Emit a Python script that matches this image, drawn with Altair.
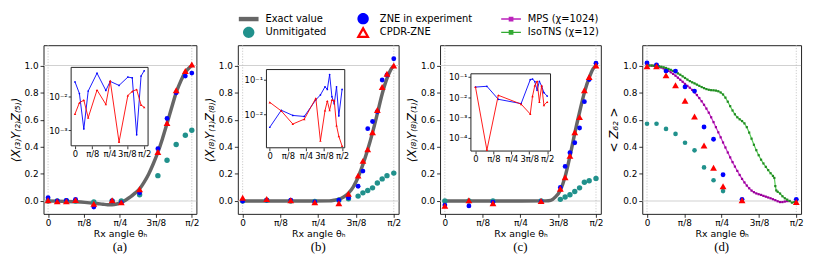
import math
import altair as alt
import pandas as pd

HALF = math.pi / 2

# ---------------- shared axis ticks ----------------
X_TICKS = [0, math.pi / 8, math.pi / 4, 3 * math.pi / 8, HALF]
X_TICK_LABELS = ["0", "π/8", "π/4", "3π/8", "π/2"]
Y_TICKS = [0, 0.2, 0.4, 0.6, 0.8, 1.0]
REF_Y = [0.0, 1.0]
REF_X = [0.0, HALF]

# ---------------- panel (a) ----------------
A_THETA = [0, 0.1, 0.2, 0.3, 0.5, 0.7, 0.8, 1.0, 1.2, 1.3, 1.4, 1.5, HALF]
A_ZNE = [0.024, 0.0, 0.005, 0.012, -0.044, 0.0, -0.012, 0.061, 0.386, 0.609, 0.799, 0.922, 0.944]
A_CPDR = [0.005, -0.003, -0.003, 0.007, -0.02, 0.005, -0.01, 0.087, 0.362, 0.575, 0.818, 0.959, 1.007]
A_UNMIT = [0.0, 0.0, 0.002, 0.0, -0.007, 0.0, 0.0, 0.046, 0.187, 0.301, 0.417, 0.485, 0.522]
A_EXACT_T = [0, 0.1, 0.2, 0.3, 0.4, 0.5, 0.55, 0.6, 0.65, 0.7, 0.75, 0.8, 0.85, 0.9, 0.95,
             1.0, 1.05, 1.1, 1.15, 1.2, 1.25, 1.3, 1.35, 1.4, 1.45, 1.5, 1.54, HALF]
A_EXACT = [0, -0.001, -0.003, -0.006, -0.01, -0.016, -0.02, -0.024, -0.027, -0.027, -0.022,
           -0.01, 0.008, 0.03, 0.058, 0.09, 0.14, 0.2, 0.275, 0.36, 0.46, 0.572, 0.688, 0.8,
           0.885, 0.95, 0.982, 1.0]
A_INSET_ZNE = [0.028, 0.0126, 0.0011, 0.015, 0.051, 0.0156, 0.029, 0.022, 0.039, 0.037, 0.00074, 0.042, 0.06]
A_INSET_CPDR = [0.0031, 0.0067, 0.008, 0.0024, 0.016, 0.006, 0.03, 0.00045, 0.011, 0.0146, 0.0166, 0.0057, 0.0049]

# ---------------- panel (b) ----------------
B_THETA = [0, 0.25, 0.5, 0.75, 1.0, 1.1, 1.2, 1.25, 1.3, 1.35, 1.4, 1.45, 1.5, HALF]
B_ZNE = [0.0, 0.007, 0.007, -0.007, 0.007, 0.024, 0.109, 0.221, 0.534, 0.587, 0.66, 0.893, 0.93, 1.05]
B_CPDR = [0.024, 0.015, 0.005, -0.01, -0.017, 0.053, 0.187, 0.296, 0.381, 0.507, 0.672, 0.842, 0.939, 1.0]
B_UNMIT = [0.0, 0.005, 0.0, -0.003, 0.005, 0.017, 0.036, 0.06, 0.078, 0.097, 0.133, 0.163, 0.187, 0.206]
B_EXACT_T = [0, 0.3, 0.6, 0.9, 0.95, 1.0, 1.05, 1.1, 1.15, 1.2, 1.25, 1.3, 1.35, 1.4, 1.45, 1.5, 1.54, HALF]
B_EXACT = [0, 0, 0, 0.001, 0.005, 0.013, 0.03, 0.058, 0.105, 0.175, 0.27, 0.38, 0.505, 0.645,
           0.79, 0.905, 0.97, 1.0]
B_INSET_ZNE = [0.0042, 0.013, 0.0092, 0.0086, 0.026, 0.036, 0.062, 0.052, 0.14, 0.032, 0.02, 0.062, 0.0089, 0.052]
B_INSET_CPDR = [0.022, 0.0124, 0.0052, 0.0072, 0.029, 0.0017, 0.0128, 0.024, 0.013, 0.026, 0.025, 0.0047, 0.0023, 0.0012]

# ---------------- panel (c) ----------------
C_THETA = [0, 0.25, 0.5, 1.0, 1.2, 1.25, 1.3, 1.35, 1.4, 1.45, 1.5, HALF]
C_ZNE = [-0.03, -0.036, -0.008, -0.005, 0.1, 0.255, 0.357, 0.43, 0.539, 0.733, 0.896, 1.017]
C_CPDR = [-0.036, 0.005, -0.017, 0.0, 0.09, 0.175, 0.333, 0.507, 0.619, 0.818, 0.915, 1.0]
C_UNMIT = [0.0, 0.0, 0.0, 0.0, 0.012, 0.029, 0.046, 0.07, 0.097, 0.138, 0.15, 0.167]
C_EXACT_T = [0, 0.4, 0.8, 1.05, 1.1, 1.15, 1.2, 1.25, 1.3, 1.35, 1.4, 1.45, 1.5, 1.54, HALF]
C_EXACT = [0, 0, 0, 0.001, 0.005, 0.03, 0.08, 0.18, 0.33, 0.5, 0.655, 0.8, 0.91, 0.975, 1.0]
C_INSET_ZNE = [0.032, 0.035, 0.008, 0.0049, 0.074, 0.08, 0.06, 0.022, 0.062, 0.035, 0.017, 0.0115]
C_INSET_CPDR = [0.032, 0.000025, 0.0126, 0.0046, 0.0015, 0.0115, 0.038, 0.062, 0.0059, 0.038, 0.0041, 0.0059]

# ---------------- panel (d) ----------------
D_THETA = [0, 0.1, 0.2, 0.3, 0.4, 0.5, 0.6, 0.7, 0.8, 1.0, HALF]
D_ZNE = [1.019, 1.005, 0.959, 0.959, 0.842, 0.811, 0.546, 0.456, 0.194, 0.012, 0.012]
D_CPDR = [0.995, 0.995, 0.927, 0.854, 0.74, 0.624, 0.41, 0.245, 0.109, 0.005, -0.007]
D_UNMIT_T = [0, 0.1, 0.2, 0.3, 0.4, 0.5, 0.6, 0.7, 0.8]
D_UNMIT = [0.570, 0.570, 0.532, 0.495, 0.430, 0.374, 0.248, 0.153, 0.073]
MPS_T = [0.0, 0.025, 0.05, 0.075, 0.1, 0.125, 0.15, 0.175, 0.2, 0.225, 0.25, 0.275, 0.3, 0.325,
         0.35, 0.375, 0.4, 0.425, 0.45, 0.475, 0.5, 0.525, 0.55, 0.575, 0.6, 0.625, 0.65, 0.675,
         0.7, 0.725, 0.75, 0.775, 0.8, 0.825, 0.85, 0.875, 0.9, 0.925, 0.95, 0.975, 1.0, 1.025,
         1.05, 1.075, 1.1, 1.125, 1.15, 1.175, 1.2, 1.225, 1.25, 1.275, 1.3, 1.325, 1.35, 1.375,
         1.4, 1.425, 1.45, 1.475, 1.5]
MPS_V = [1.0, 1.0, 0.999, 0.997, 0.994, 0.99, 0.985, 0.978, 0.97, 0.96, 0.95, 0.938, 0.925, 0.91,
         0.895, 0.88, 0.864, 0.85, 0.836, 0.82, 0.802, 0.782, 0.76, 0.736, 0.71, 0.682, 0.652,
         0.618, 0.582, 0.545, 0.507, 0.47, 0.432, 0.395, 0.358, 0.322, 0.287, 0.254, 0.222,
         0.192, 0.163, 0.137, 0.114, 0.094, 0.077, 0.065, 0.056, 0.05, 0.045, 0.038, 0.032,
         0.026, 0.02, 0.013, 0.006, -0.002, -0.008, -0.008, -0.004, -0.001, 0.0]
ISO_T = [0.0, 0.025, 0.05, 0.075, 0.1, 0.125, 0.15, 0.175, 0.2, 0.225, 0.25, 0.275, 0.3, 0.325,
         0.35, 0.375, 0.4, 0.425, 0.45, 0.475, 0.5, 0.525, 0.55, 0.575, 0.6, 0.625, 0.65, 0.675,
         0.7, 0.725, 0.75, 0.775, 0.8, 0.825, 0.85, 0.875, 0.9, 0.925, 0.95, 0.975, 1.0, 1.025,
         1.05, 1.075, 1.1, 1.125, 1.15, 1.175, 1.2, 1.225, 1.25, 1.275, 1.3, 1.325, 1.34, 1.35,
         1.36, 1.375, 1.4, 1.425, 1.45, 1.475, 1.5, 1.525, 1.55, HALF]
ISO_V = [1.0, 1.0, 1.0, 0.999, 0.998, 0.995, 0.991, 0.987, 0.982, 0.975, 0.968, 0.96, 0.952,
         0.942, 0.932, 0.92, 0.908, 0.896, 0.885, 0.876, 0.868, 0.859, 0.85, 0.841, 0.833, 0.826,
         0.821, 0.818, 0.817, 0.815, 0.81, 0.801, 0.786, 0.763, 0.733, 0.7, 0.668, 0.64, 0.618,
         0.603, 0.59, 0.573, 0.545, 0.505, 0.46, 0.415, 0.375, 0.338, 0.305, 0.277, 0.252, 0.228,
         0.205, 0.185, 0.17, 0.11, 0.078, 0.068, 0.055, 0.035, 0.02, 0.01, 0.0, -0.012, -0.008, -0.005]

# ---------------- legend (column-major order: 3 columns x 2 rows) ----------------
LEGEND_LABELS = ["Exact value", "Unmitigated", "ZNE in experiment", "CPDR-ZNE",
                 "MPS (χ=1024)", "IsoTNS (χ=12)"]
LEGEND_COLORS = ["#666666", "#21918c", "#0000ff", "#ff0000", "#bb22bb", "#33aa33"]

# ---------------- styling / layout ----------------
COL_EXACT = "#666666"
COL_ZNE = "#0000ff"
COL_CPDR = "#ff0000"
COL_UNMIT = "#21918c"
X_DOMAIN = [-0.05, 1.621]
Y_DOMAIN = [-0.095, 1.15]
H = 171
FONT = "DejaVu Sans"

PATH_BAR = "M-1.25,-0.28H1.25V0.28H-1.25Z"
PATH_CIRCLE = "M0.72,0A0.72,0.72,0,1,1,-0.72,0A0.72,0.72,0,1,1,0.72,0Z"
PATH_LINESQ = "M-1.25,-0.09H1.25V0.09H-1.25Z M-0.3,-0.3H0.3V0.3H-0.3Z"
PATH_OPEN_TRI = "M0,-0.8L0.85,0.7L-0.85,0.7Z M0,-0.22L-0.37,0.42L0.37,0.42Z"
LEGEND_PATHS = [PATH_BAR, PATH_CIRCLE, PATH_CIRCLE, PATH_OPEN_TRI, PATH_LINESQ, PATH_LINESQ]


def label_expr(values, labels, rel=False):
    expr = "''"
    for v, l in reversed(list(zip(values, labels))):
        if rel:
            cond = f"abs(datum.value / {v!r} - 1) < 0.01"
        else:
            cond = f"abs(datum.value - {v!r}) < 0.01"
        expr = f"{cond} ? '{l}' : {expr}"
    return expr


def main_x():
    return alt.X(
        "theta:Q",
        scale=alt.Scale(domain=X_DOMAIN, nice=False, zero=False),
        axis=alt.Axis(orient="bottom", values=X_TICKS, labelExpr=label_expr(X_TICKS, X_TICK_LABELS),
                      title="Rx angle θₕ", grid=False, domain=False, tickSize=3.5, tickColor="#000",
                      tickWidth=0.8, labelFont=FONT, labelFontSize=9, labelColor="#000",
                      labelPadding=1.5, labelOverlap=False, labelFlush=False, titleFont=FONT,
                      titleFontSize=9.5, titleFontWeight="normal", titleColor="#000", titlePadding=1),
    )


def main_y(title):
    return alt.Y(
        "value:Q",
        scale=alt.Scale(domain=Y_DOMAIN, nice=False, zero=False),
        axis=alt.Axis(orient="left", values=Y_TICKS, format=".1f", title=title, grid=False,
                      domain=False, tickSize=3.5, tickColor="#000", tickWidth=0.8, labelFont=FONT,
                      labelFontSize=9, labelColor="#000", labelPadding=2, labelOverlap=False,
                      labelFlush=False, titleFont=FONT, titleFontSize=12, titleFontWeight="normal",
                      titleFontStyle="italic", titleColor="#000", titlePadding=2),
    )


def ref_layers(ytitle):
    hy = alt.Chart(pd.DataFrame({"value": REF_Y})).mark_rule(
        color="#d0d0d0", strokeWidth=1).encode(y=main_y(ytitle))
    vx = alt.Chart(pd.DataFrame({"theta": REF_X})).mark_rule(
        color="#bdbdbd", strokeWidth=0.8, strokeDash=[1.2, 1.6]).encode(x=main_x())
    return [hy, vx]


def line_layer(t, v, ytitle, color, width):
    return alt.Chart(pd.DataFrame({"theta": t, "value": v})).mark_line(
        color=color, strokeWidth=width, interpolate="monotone").encode(x=main_x(), y=main_y(ytitle))


def circles(t, v, ytitle, color, size):
    return alt.Chart(pd.DataFrame({"theta": t, "value": v})).mark_circle(
        color=color, size=size, opacity=1).encode(x=main_x(), y=main_y(ytitle))


def triangles(t, v, ytitle, size):
    return alt.Chart(pd.DataFrame({"theta": t, "value": v})).mark_point(
        shape="triangle-up", filled=True, color=COL_CPDR, size=size, opacity=1).encode(
        x=main_x(), y=main_y(ytitle))


def inset(theta, zne, cpdr, lo, hi, px0, px1, ylo, yhi, pyb, pyt, yticks, ylabels):
    xs = alt.Scale(domain=[lo, hi], range=[px0, px1], nice=False, zero=False)
    ys = alt.Scale(type="log", domain=[ylo, yhi], range=[pyb, pyt], nice=False)
    xa = alt.Axis(orient="bottom", offset=-(H - pyb), values=X_TICKS,
                  labelExpr=label_expr(X_TICKS, X_TICK_LABELS), title=None, grid=False,
                  domain=False, tickSize=3, tickColor="#000", tickWidth=0.8, labelFont=FONT,
                  labelFontSize=8.5, labelColor="#000", labelPadding=1, labelOverlap=False,
                  labelFlush=False)
    ya = alt.Axis(orient="left", offset=-px0, values=yticks,
                  labelExpr=label_expr(yticks, ylabels, rel=True), title=None, grid=False,
                  domain=False, tickSize=3, tickColor="#000", tickWidth=0.8, labelFont=FONT,
                  labelFontSize=8.5, labelColor="#000", labelPadding=1, labelOverlap=False,
                  labelFlush=False)
    frame = alt.Chart(pd.DataFrame({"x": [lo], "x2": [hi], "y": [ylo], "y2": [yhi]})).mark_rect(
        fill="white", stroke="#222", strokeWidth=1).encode(
        x=alt.X("x:Q", scale=xs, axis=xa), x2="x2:Q",
        y=alt.Y("y:Q", scale=ys, axis=ya), y2="y2:Q")
    bl = alt.Chart(pd.DataFrame({"x": theta, "y": zne})).mark_line(
        color=COL_ZNE, strokeWidth=0.9,
        point=alt.OverlayMarkDef(color=COL_ZNE, filled=True, size=3, opacity=1)).encode(
        x=alt.X("x:Q", scale=xs, axis=xa), y=alt.Y("y:Q", scale=ys, axis=ya))
    rl = alt.Chart(pd.DataFrame({"x": theta, "y": cpdr})).mark_line(
        color=COL_CPDR, strokeWidth=0.9,
        point=alt.OverlayMarkDef(color=COL_CPDR, filled=True, shape="triangle-up", size=6, opacity=1)).encode(
        x=alt.X("x:Q", scale=xs, axis=xa), y=alt.Y("y:Q", scale=ys, axis=ya))
    return alt.layer(frame, bl, rl)


def caption(text):
    return alt.TitleParams(text, orient="bottom", font="Liberation Serif", fontSize=13,
                           fontWeight="normal", color="#000", offset=3)


legend_obj = alt.Legend(orient="none", legendX=3, legendY=-35, columns=3, title=None,
                        symbolSize=256, symbolStrokeWidth=0, symbolOpacity=1,
                        labelFont=FONT, labelFontSize=10, labelColor="#000", labelOffset=9,
                        columnPadding=29, rowPadding=0, padding=0)
legend_layer = alt.Chart(pd.DataFrame({"series": LEGEND_LABELS})).mark_point(
    filled=True, opacity=1, clip=True).encode(
    x=alt.value(-60), y=alt.value(-60),
    color=alt.Color("series:N", scale=alt.Scale(domain=LEGEND_LABELS, range=LEGEND_COLORS), legend=legend_obj),
    shape=alt.Shape("series:N", scale=alt.Scale(domain=LEGEND_LABELS, range=LEGEND_PATHS), legend=legend_obj),
)

# panel (a)
YA = "⟨X₍₃₎Y₍₂₎Z₍₅₎⟩"
pa_main = alt.layer(*ref_layers(YA), line_layer(A_EXACT_T, A_EXACT, YA, COL_EXACT, 3.5),
                    circles(A_THETA, A_UNMIT, YA, COL_UNMIT, 30),
                    circles(A_THETA, A_ZNE, YA, COL_ZNE, 24),
                    triangles(A_THETA, A_CPDR, YA, 48))
pa_in = inset(A_THETA, A_INSET_ZNE, A_INSET_CPDR, -0.088, 1.659, 28, 106, 3.47e-4, 0.0759, 102, 22.5,
              [1e-3, 1e-2], ["10⁻³", "10⁻²"])
pa = alt.layer(pa_main, pa_in).resolve_scale(x="independent", y="independent").properties(
    width=155, height=H, title=caption("(a)"))

# panel (b)
YB = "⟨X₍₈₎Y₍₁₎Z₍₈₎⟩"
pb_main = alt.layer(*ref_layers(YB), line_layer(B_EXACT_T, B_EXACT, YB, COL_EXACT, 3.5),
                    circles(B_THETA, B_UNMIT, YB, COL_UNMIT, 30),
                    circles(B_THETA, B_ZNE, YB, COL_ZNE, 24),
                    triangles(B_THETA, B_CPDR, YB, 48), legend_layer)
pb_in = inset(B_THETA, B_INSET_ZNE, B_INSET_CPDR, -0.073, 1.629, 29, 108.4, 1.07e-3, 0.195, 104, 24.7,
              [1e-2, 1e-1], ["10⁻²", "10⁻¹"])
pb = alt.layer(pb_main, pb_in).resolve_scale(x="independent", y="independent").properties(
    width=163, height=H, title=caption("(b)"))

# panel (c)
YC = "⟨X₍₈₎Y₍₈₎Z₍₁₎⟩"
pc_main = alt.layer(*ref_layers(YC), line_layer(C_EXACT_T, C_EXACT, YC, COL_EXACT, 3.5),
                    circles(C_THETA, C_UNMIT, YC, COL_UNMIT, 30),
                    circles(C_THETA, C_ZNE, YC, COL_ZNE, 24),
                    triangles(C_THETA, C_CPDR, YC, 48))
pc_in = inset(C_THETA, C_INSET_ZNE, C_INSET_CPDR, -0.1, 1.644, 31.3, 112, 2.24e-5, 0.1445, 107.3, 29,
              [1e-4, 1e-3, 1e-2, 1e-1], ["10⁻⁴", "10⁻³", "10⁻²", "10⁻¹"])
pc = alt.layer(pc_main, pc_in).resolve_scale(x="independent", y="independent").properties(
    width=163, height=H, title=caption("(c)"))

# panel (d)
YD = "< Z₆₂ >"
mps = alt.Chart(pd.DataFrame({"theta": MPS_T, "value": MPS_V})).mark_line(
    color="#cc33cc", strokeWidth=1.2,
    point=alt.OverlayMarkDef(shape="square", filled=True, color="#990099", size=5, opacity=1)).encode(
    x=main_x(), y=main_y(YD))
iso = alt.Chart(pd.DataFrame({"theta": ISO_T, "value": ISO_V})).mark_line(
    color="#55cc55", strokeWidth=1.2,
    point=alt.OverlayMarkDef(shape="square", filled=True, color="#228b22", size=5, opacity=1)).encode(
    x=main_x(), y=main_y(YD))
pd_chart = alt.layer(*ref_layers(YD), mps, iso,
                     circles(D_UNMIT_T, D_UNMIT, YD, COL_UNMIT, 22),
                     circles(D_THETA, D_ZNE, YD, COL_ZNE, 24),
                     triangles(D_THETA, D_CPDR, YD, 48)).properties(
    width=161, height=H, title=caption("(d)"))

chart = alt.hconcat(pa, pb, pc, pd_chart, spacing=42, bounds="flush").resolve_scale(
    color="independent", shape="independent").configure_view(
    stroke="#222", strokeWidth=1).properties(padding={"left": 0, "top": 0, "right": 2, "bottom": 0})

chart.save("out.html", embed_options={"renderer": "svg", "actions": False})
